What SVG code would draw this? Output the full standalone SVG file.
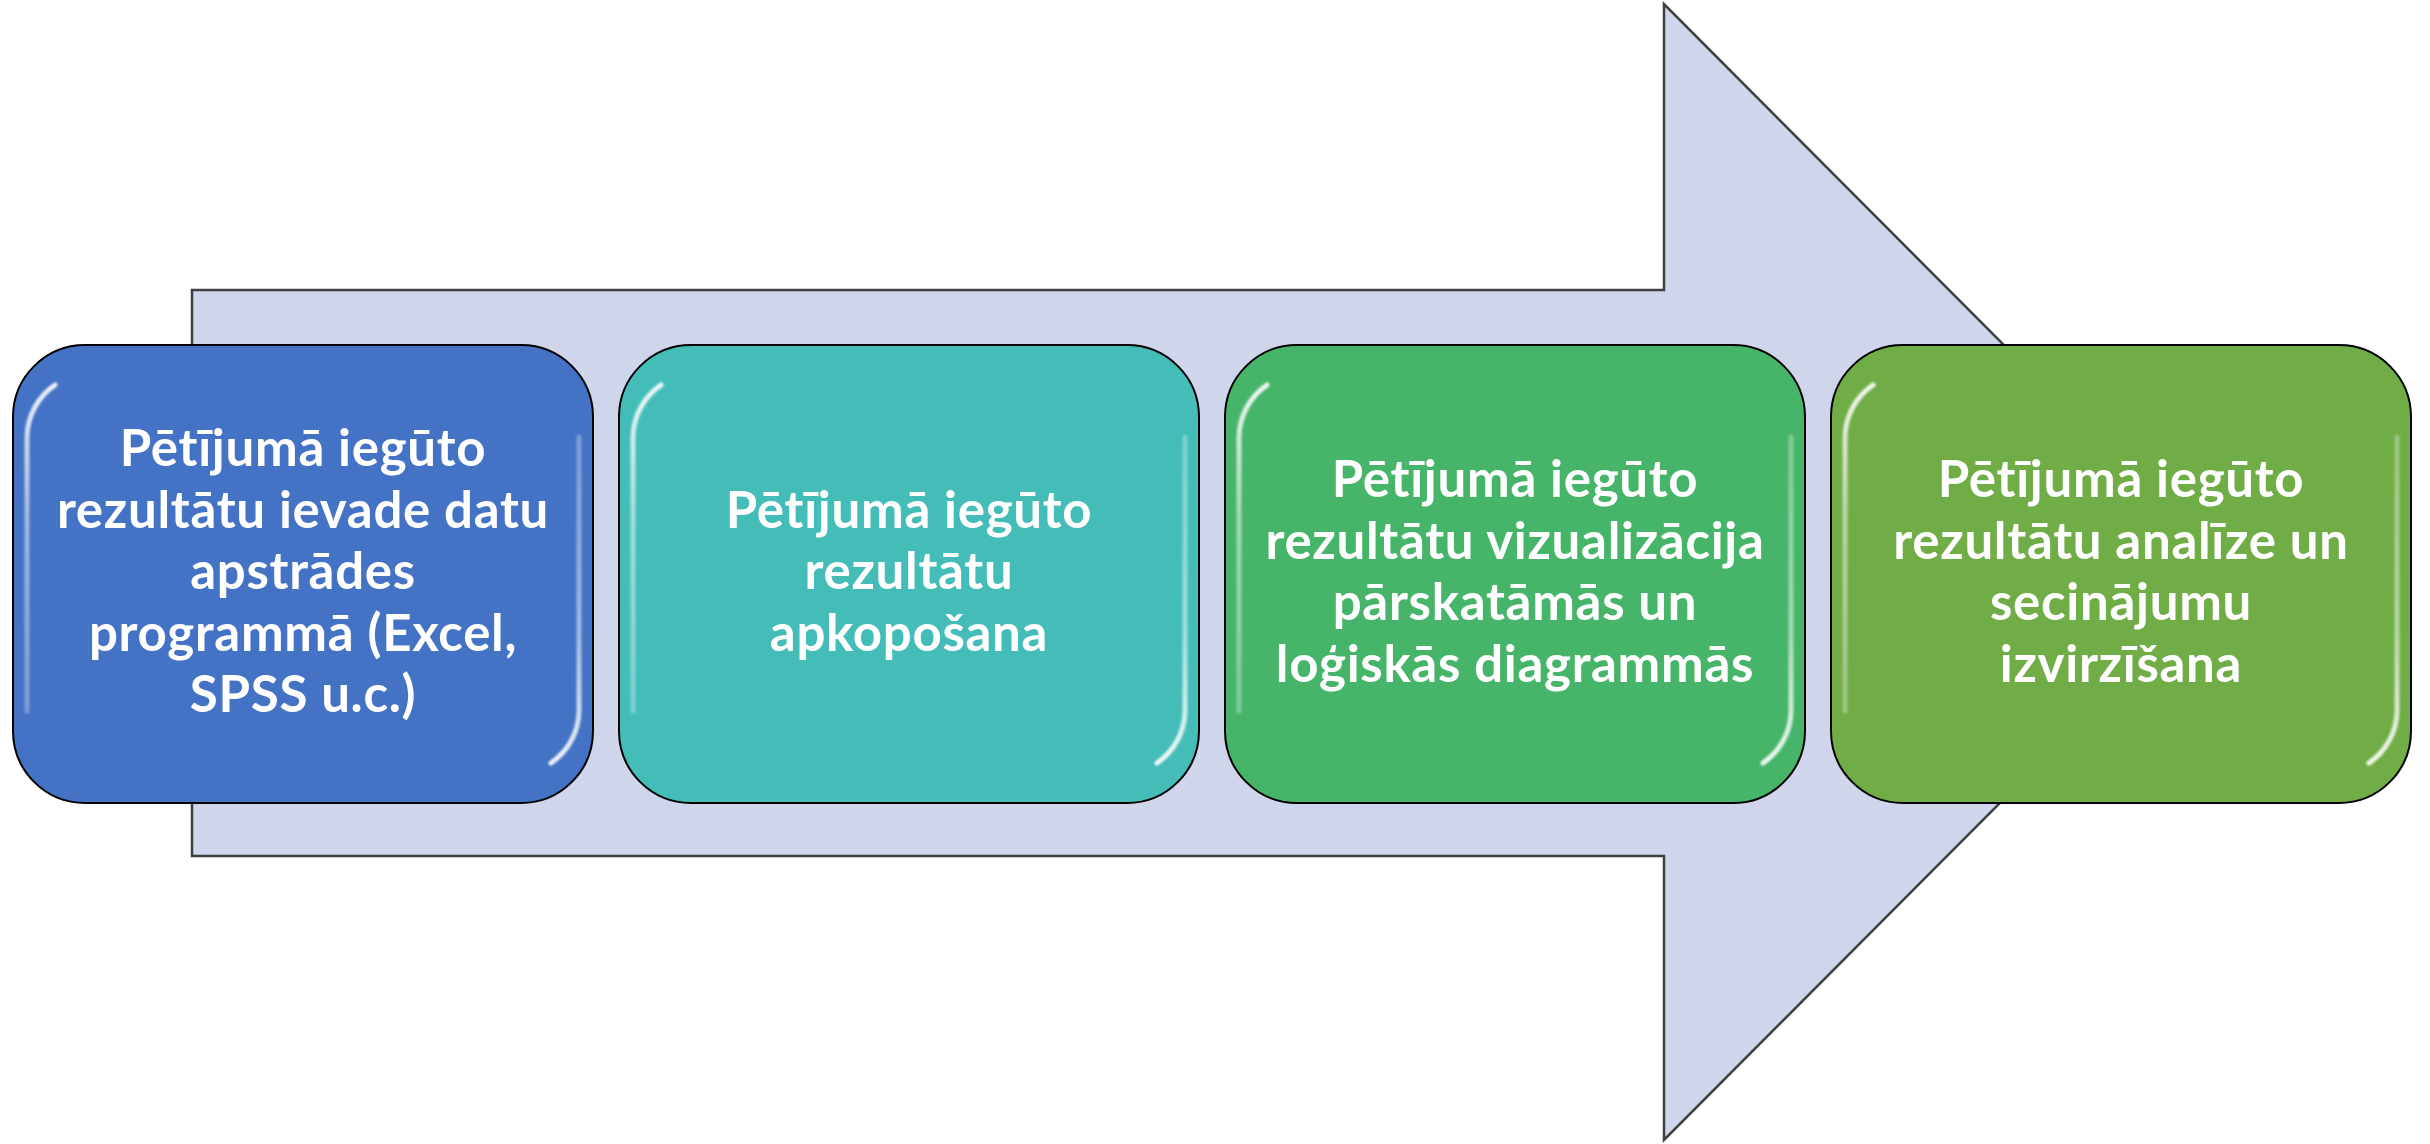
<svg xmlns="http://www.w3.org/2000/svg" width="2430" height="1144" viewBox="0 0 2430 1144">
  <style>
    .box { stroke: #000000; stroke-width: 2; }
    .lbl { font-family: Lato, "Open Sans", "Liberation Sans", sans-serif; font-weight: 700; font-size: 51px; letter-spacing: 0.7px; fill: #FFFFFF; text-anchor: middle; }
    .hl { fill: none; stroke-width: 5; stroke-linecap: round; filter: url(#soft); }
    .hlL { stroke: url(#gL); }
    .hlR { stroke: url(#gR); }
  </style>
  <defs>
    <filter id="soft" x="-20%" y="-5%" width="140%" height="110%">
      <feGaussianBlur stdDeviation="1.3"/>
    </filter>
    <linearGradient id="gL" x1="0" y1="0" x2="0" y2="1">
      <stop offset="0" stop-color="#FFFFFF" stop-opacity="0.9"/>
      <stop offset="0.4" stop-color="#FFFFFF" stop-opacity="0.5"/>
      <stop offset="1" stop-color="#FFFFFF" stop-opacity="0.3"/>
    </linearGradient>
    <linearGradient id="gR" x1="0" y1="0" x2="0" y2="1">
      <stop offset="0" stop-color="#FFFFFF" stop-opacity="0.3"/>
      <stop offset="0.6" stop-color="#FFFFFF" stop-opacity="0.5"/>
      <stop offset="1" stop-color="#FFFFFF" stop-opacity="0.9"/>
    </linearGradient>
  </defs>

  <g id="arrow">
    <polygon points="192,290 1664,290 1664,4 2230,572 1664,1140 1664,856 192,856" fill="#CFD5EA" stroke="#3F3F3F" stroke-width="2.5"/>
  </g>

  <g id="connectors"></g>

  <g id="node1">
    <rect class="box" x="13" y="345" width="580" height="458" rx="72" ry="72" fill="#4472C4"/>
    <path class="hl hlL" d="M 55,385 A 64 64 0 0 0 27,437 L 27,711"/>
    <path class="hl hlR" d="M 579,437 L 579,711 A 64 64 0 0 1 551,763"/>
    <text class="lbl" x="303" y="466">Pētījumā iegūto</text>
    <text class="lbl" x="303" y="527.5">rezultātu ievade datu</text>
    <text class="lbl" x="303" y="589">apstrādes</text>
    <text class="lbl" x="303" y="650.5">programmā (Excel,</text>
    <text class="lbl" x="303" y="712">SPSS u.c.)</text>
  </g>

  <g id="node2">
    <rect class="box" x="619" y="345" width="580" height="458" rx="72" ry="72" fill="#44BDB8"/>
    <path class="hl hlL" d="M 661,385 A 64 64 0 0 0 633,437 L 633,711"/>
    <path class="hl hlR" d="M 1185,437 L 1185,711 A 64 64 0 0 1 1157,763"/>
    <text class="lbl" x="909" y="527.5">Pētījumā iegūto</text>
    <text class="lbl" x="909" y="589">rezultātu</text>
    <text class="lbl" x="909" y="650.5">apkopošana</text>
  </g>

  <g id="node3">
    <rect class="box" x="1225" y="345" width="580" height="458" rx="72" ry="72" fill="#47B569"/>
    <path class="hl hlL" d="M 1267,385 A 64 64 0 0 0 1239,437 L 1239,711"/>
    <path class="hl hlR" d="M 1791,437 L 1791,711 A 64 64 0 0 1 1763,763"/>
    <text class="lbl" x="1515" y="497.25">Pētījumā iegūto</text>
    <text class="lbl" x="1515" y="558.75">rezultātu vizualizācija</text>
    <text class="lbl" x="1515" y="620.25">pārskatāmās un</text>
    <text class="lbl" x="1515" y="681.75">loģiskās diagrammās</text>
  </g>

  <g id="node4">
    <rect class="box" x="1831" y="345" width="580" height="458" rx="72" ry="72" fill="#70AD47"/>
    <path class="hl hlL" d="M 1873,385 A 64 64 0 0 0 1845,437 L 1845,711"/>
    <path class="hl hlR" d="M 2397,437 L 2397,711 A 64 64 0 0 1 2369,763"/>
    <text class="lbl" x="2121" y="497.25">Pētījumā iegūto</text>
    <text class="lbl" x="2121" y="558.75">rezultātu analīze un</text>
    <text class="lbl" x="2121" y="620.25">secinājumu</text>
    <text class="lbl" x="2121" y="681.75">izvirzīšana</text>
  </g>
</svg>
